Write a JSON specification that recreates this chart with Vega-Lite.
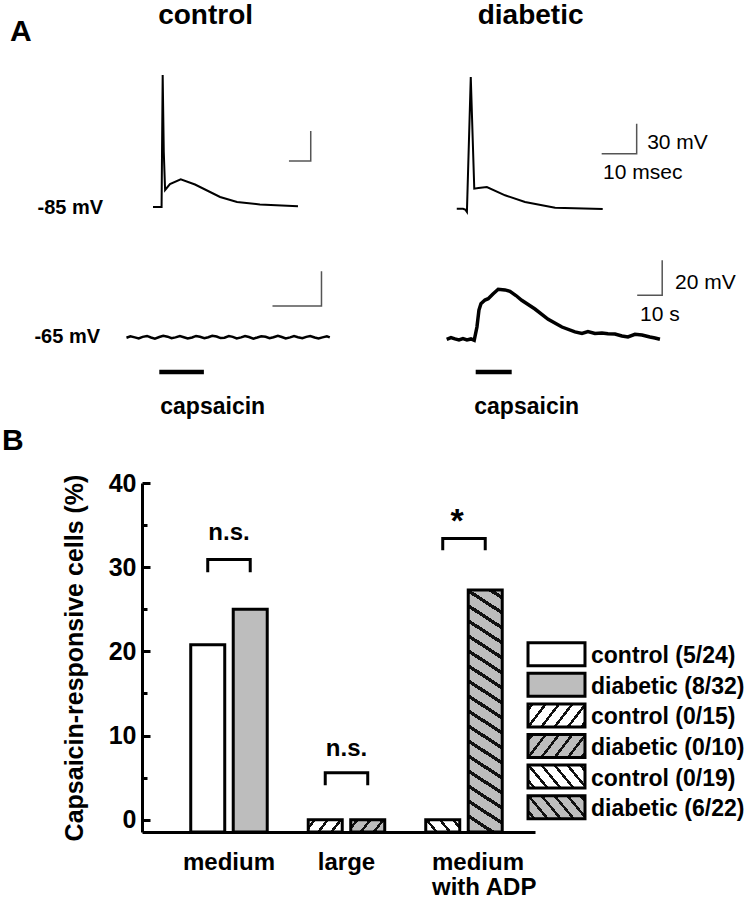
{
"$schema": "https://vega.github.io/schema/vega-lite/v6.json",
"padding": {"left": 2, "top": 1, "right": 0, "bottom": 10},
"config": {"view": {"stroke": null}, "font": "Liberation Sans"},
"bounds": "flush",
"spacing": 0,
"vconcat": [
{
 "width": 538, "height": 160,
 "resolve": {"scale": {"x": "independent"}},
 "layer": [
 {
  "encoding": {
   "x": {"field": "t", "type": "quantitative", "scale": {"domain": [-5, 239.55], "nice": false, "zero": false}, "axis": null},
   "y": {"field": "v", "type": "quantitative", "scale": {"domain": [-100, 60], "nice": false, "zero": false}, "axis": null}
  },
  "layer": [
   {"data": {"values": [{"t":0,"v":-85},{"t":3.9,"v":-85},{"t":4.1,"v":-30},{"t":4.4,"v":47},{"t":4.9,"v":-30},{"t":5.5,"v":-68},{"t":7.7,"v":-62},{"t":12.6,"v":-57.3},{"t":19.1,"v":-62.5},{"t":30.5,"v":-75},{"t":38.2,"v":-80},{"t":48.6,"v":-82.5},{"t":65.9,"v":-84.3}]},
    "mark": {"type": "line", "color": "black", "strokeWidth": 2}},
   {"data": {"values": [{"k":1,"t":61.8,"v":-39},{"k":2,"t":71.7,"v":-39},{"k":3,"t":71.7,"v":-9}]},
    "mark": {"type": "line", "color": "#555555", "strokeWidth": 1.5}, "encoding": {"order": {"field": "k", "type": "quantitative"}}},
   {"data": {"values": [{"t":-22.7,"v":-91.7,"label":"-85 mV"}]},
    "mark": {"type": "text", "align": "right", "baseline": "alphabetic", "fontSize": 20, "fontWeight": "bold", "color": "black"}, "encoding": {"text": {"field": "label"}}},
   {"data": {"values": [{"t":23.9,"v":98.3,"label":"control"}]},
    "mark": {"type": "text", "align": "center", "baseline": "alphabetic", "fontSize": 28, "fontWeight": "bold", "color": "black"}, "encoding": {"text": {"field": "label"}}},
   {"data": {"values": [{"t":-65,"v":80.7,"label":"A"}]},
    "mark": {"type": "text", "align": "left", "baseline": "alphabetic", "fontSize": 30, "fontWeight": "bold", "color": "black"}, "encoding": {"text": {"field": "label"}}}
  ]
 },
 {
  "encoding": {
   "x": {"field": "t", "type": "quantitative", "scale": {"domain": [-89.93, 63.78], "nice": false, "zero": false}, "axis": null},
   "y": {"field": "v", "type": "quantitative", "scale": {"domain": [-100, 60], "nice": false, "zero": false}, "axis": null}
  },
  "layer": [
   {"data": {"values": [{"t":0,"v":-86.7},{"t":1.8,"v":-86.7},{"t":2.4,"v":-87.5},{"t":2.9,"v":-90},{"t":4.0,"v":45},{"t":5.0,"v":-66.7},{"t":6.2,"v":-66},{"t":8.6,"v":-65},{"t":13.8,"v":-73.3},{"t":19.5,"v":-80},{"t":28.1,"v":-85.7},{"t":41.7,"v":-87}]},
    "mark": {"type": "line", "color": "black", "strokeWidth": 2}},
   {"data": {"values": [{"k":1,"t":41.4,"v":-31.7},{"k":2,"t":51.4,"v":-31.7},{"k":3,"t":51.4,"v":-1.7}]},
    "mark": {"type": "line", "color": "#555555", "strokeWidth": 1.5}, "encoding": {"order": {"field": "k", "type": "quantitative"}}},
   {"data": {"values": [{"t":54.4,"v":-26.7,"label":"30 mV"},{"t":41.8,"v":-56.7,"label":"10 msec"}]},
    "mark": {"type": "text", "align": "left", "baseline": "alphabetic", "fontSize": 21, "color": "black"}, "encoding": {"text": {"field": "label"}}},
   {"data": {"values": [{"t":21.1,"v":98.3,"label":"diabetic"}]},
    "mark": {"type": "text", "align": "center", "baseline": "alphabetic", "fontSize": 28, "fontWeight": "bold", "color": "black"}, "encoding": {"text": {"field": "label"}}}
  ]
 }
 ]
},
{
 "width": 538, "height": 261,
 "resolve": {"scale": {"x": "independent"}},
 "layer": [
 {
  "encoding": {
   "x": {"field": "t", "type": "quantitative", "scale": {"domain": [-3.531, 106.27], "nice": false, "zero": false}, "axis": null},
   "y": {"field": "v", "type": "quantitative", "scale": {"domain": [-148.4, 0.7], "nice": false, "zero": false}, "axis": null}
  },
  "layer": [
   {"data": {"values": [{"t":-6.7,"v":-65.4},{"t":-5.9,"v":-64.6},{"t":-5.0,"v":-65.2},{"t":-4.2,"v":-65.8},{"t":-3.4,"v":-64.9},{"t":-2.5,"v":-64.4},{"t":-1.7,"v":-65.3},{"t":-0.9,"v":-65.9},{"t":0.0,"v":-65.0},{"t":0.8,"v":-64.3},{"t":1.7,"v":-64.8},{"t":2.5,"v":-65.7},{"t":3.3,"v":-65.2},{"t":4.2,"v":-64.5},{"t":5.0,"v":-65.1},{"t":5.8,"v":-65.8},{"t":6.7,"v":-65.3},{"t":7.5,"v":-64.4},{"t":8.3,"v":-64.9},{"t":9.2,"v":-65.7},{"t":10.0,"v":-65.1},{"t":10.8,"v":-64.3},{"t":11.7,"v":-64.7},{"t":12.5,"v":-65.6},{"t":13.3,"v":-65.4},{"t":14.2,"v":-64.5},{"t":15.0,"v":-64.9},{"t":15.8,"v":-65.8},{"t":16.7,"v":-65.2},{"t":17.5,"v":-64.4},{"t":18.3,"v":-65.0},{"t":19.2,"v":-65.9},{"t":20.0,"v":-65.3},{"t":20.8,"v":-64.6},{"t":21.7,"v":-64.9},{"t":22.5,"v":-65.7},{"t":23.3,"v":-65.1},{"t":24.2,"v":-64.3},{"t":25.0,"v":-65.0},{"t":25.8,"v":-65.8},{"t":26.7,"v":-65.2},{"t":27.5,"v":-64.5},{"t":28.3,"v":-65.1},{"t":29.2,"v":-65.7},{"t":30.0,"v":-64.9},{"t":30.8,"v":-64.4},{"t":31.7,"v":-65.3},{"t":32.5,"v":-65.8},{"t":33.3,"v":-65.2},{"t":34.2,"v":-64.6},{"t":34.8,"v":-65.2}]},
    "mark": {"type": "line", "color": "black", "strokeWidth": 2.5}},
   {"data": {"values": [{"k":1,"t":23.1,"v":-47.3},{"k":2,"t":33.1,"v":-47.3},{"k":3,"t":33.1,"v":-27.5}]},
    "mark": {"type": "line", "color": "#555555", "strokeWidth": 1.5}, "encoding": {"order": {"field": "k", "type": "quantitative"}}},
   {"data": {"values": [{"t":0,"t2":9.1,"v":-85}]},
    "mark": {"type": "rule", "color": "black", "strokeWidth": 4.5}, "encoding": {"x2": {"field": "t2"}}},
   {"data": {"values": [{"t":-12.1,"v":-68.4,"label":"-65 mV"}]},
    "mark": {"type": "text", "align": "right", "baseline": "alphabetic", "fontSize": 20, "fontWeight": "bold", "color": "black"}, "encoding": {"text": {"field": "label"}}},
   {"data": {"values": [{"t":10.9,"v":-108.8,"label":"capsaicin"}]},
    "mark": {"type": "text", "align": "center", "baseline": "alphabetic", "fontSize": 23, "fontWeight": "bold", "color": "black"}, "encoding": {"text": {"field": "label"}}},
   {"data": {"values": [{"t":-32.1,"v":-129.7,"label":"B"}]},
    "mark": {"type": "text", "align": "left", "baseline": "alphabetic", "fontSize": 30, "fontWeight": "bold", "color": "black"}, "encoding": {"text": {"field": "label"}}}
  ]
 },
 {
  "encoding": {
   "x": {"field": "t", "type": "quantitative", "scale": {"domain": [-133.48, 81.72], "nice": false, "zero": false}, "axis": null},
   "y": {"field": "v", "type": "quantitative", "scale": {"domain": [-148.4, 0.7], "nice": false, "zero": false}, "axis": null}
  },
  "layer": [
   {"data": {"values": [{"t":-11.6,"v":-66.3},{"t":-9.9,"v":-65.3},{"t":-8.3,"v":-66.1},{"t":-6.7,"v":-66.7},{"t":-5.1,"v":-65.9},{"t":-3.5,"v":-66.7},{"t":-1.9,"v":-66.1},{"t":-0.6,"v":-66.9},{"t":0.5,"v":-59.3},{"t":1.3,"v":-49.6},{"t":2.1,"v":-46.0},{"t":3.7,"v":-43.9},{"t":5.0,"v":-43.1},{"t":6.9,"v":-40.4},{"t":9.0,"v":-37.7},{"t":11.7,"v":-38.1},{"t":13.7,"v":-38.9},{"t":16.1,"v":-41.3},{"t":18.4,"v":-44.0},{"t":23.7,"v":-49.0},{"t":29.0,"v":-54.9},{"t":34.5,"v":-59.3},{"t":39.7,"v":-62.1},{"t":42.5,"v":-63.0},{"t":44.9,"v":-61.9},{"t":47.7,"v":-63.0},{"t":50.5,"v":-62.7},{"t":52.9,"v":-63.1},{"t":55.7,"v":-63.3},{"t":58.5,"v":-64.4},{"t":60.9,"v":-65.0},{"t":63.7,"v":-63.5},{"t":66.5,"v":-63.9},{"t":69.7,"v":-65.0},{"t":71.7,"v":-65.6},{"t":73.7,"v":-66.3}]},
    "mark": {"type": "line", "color": "black", "strokeWidth": 3.5}},
   {"data": {"values": [{"k":1,"t":64.6,"v":-41.2},{"k":2,"t":74.6,"v":-41.2},{"k":3,"t":74.6,"v":-21.2}]},
    "mark": {"type": "line", "color": "#555555", "strokeWidth": 1.5}, "encoding": {"order": {"field": "k", "type": "quantitative"}}},
   {"data": {"values": [{"t":0,"t2":14.4,"v":-85}]},
    "mark": {"type": "rule", "color": "black", "strokeWidth": 4.5}, "encoding": {"x2": {"field": "t2"}}},
   {"data": {"values": [{"t":79.7,"v":-37.4,"label":"20 mV"},{"t":65.7,"v":-56,"label":"10 s"}]},
    "mark": {"type": "text", "align": "left", "baseline": "alphabetic", "fontSize": 21, "color": "black"}, "encoding": {"text": {"field": "label"}}},
   {"data": {"values": [{"t":20.4,"v":-108.8,"label":"capsaicin"}]},
    "mark": {"type": "text", "align": "center", "baseline": "alphabetic", "fontSize": 23, "fontWeight": "bold", "color": "black"}, "encoding": {"text": {"field": "label"}}}
  ]
 }
 ]
},
{
 "width": 393, "height": 349,
 "resolve": {"scale": {"x": "independent", "y": "independent"}},
 "layer": [
 {
  "data": {"values": [
   {"group":"medium","cond":"control","pct":20.8},
   {"group":"medium","cond":"diabetic","pct":25.0},
   {"group":"large","cond":"control","pct":0},
   {"group":"large","cond":"diabetic","pct":0},
   {"group":"medium with ADP","cond":"control","pct":0},
   {"group":"medium with ADP","cond":"diabetic","pct":27.3}
  ]},
  "encoding": {
   "x": {"field": "group", "type": "nominal", "title": null,
    "scale": {"type": "band", "domain": ["medium", "large", "medium with ADP"], "paddingInner": 0.349, "paddingOuter": 0.3468, "align": 0.598},
    "axis": {"ticks": false, "tickSize": 0, "domainColor": "black", "domainWidth": 3, "labelFontSize": 24, "labelFontWeight": "bold", "labelColor": "black", "labelPadding": 18, "labelAngle": 0, "labelOverlap": false,
     "labelExpr": "datum.value === 'medium with ADP' ? 'medium' : datum.value",
     "labelAlign": {"condition": {"test": "datum.value === 'medium with ADP'", "value": "left"}, "value": "center"},
     "labelOffset": {"condition": {"test": "datum.value === 'medium with ADP'", "value": -32}, "value": 0}}},
   "y": {"field": "pct", "type": "quantitative",
    "scale": {"domain": [-1.45, 40], "nice": false, "zero": false},
    "axis": {"title": "Capsaicin-responsive cells (%)", "grid": false, "values": [0,5,10,15,20,25,30,35,40],
     "labelExpr": "datum.value % 10 === 0 ? datum.label : ''",
     "tickSize": {"condition": {"test": "datum.value % 10 !== 0", "value": -5}, "value": -8},
     "tickWidth": 3, "tickColor": "black", "domainColor": "black", "domainWidth": 3,
     "labelFontSize": 25, "labelFontWeight": "bold", "labelColor": "black", "labelPadding": 14, "labelFlush": false, "labelOverlap": false,
     "titleFontSize": 25, "titleFontWeight": "bold", "titleColor": "black", "titlePadding": 21}}
  },
  "layer": [
   {"transform": [{"filter": "datum.group === 'medium'"}],
    "mark": {"type": "bar", "stroke": "black", "strokeWidth": 3},
    "encoding": {"xOffset": {"field": "cond", "type": "nominal", "scale": {"domain": ["control", "diabetic"], "paddingInner": 0.2, "paddingOuter": 0}},
     "y2": {"datum": -1.45},
     "fill": {"field": "cond", "type": "nominal", "scale": {"domain": ["control", "diabetic"], "range": ["#ffffff", "#bdbdbd"]}, "legend": null}}},
   {"transform": [{"filter": "datum.group === 'large' && datum.cond === 'control'"}],
    "mark": {"type": "bar", "stroke": "black", "strokeWidth": 3,
     "fill": {"gradient": "linear", "x1": 0, "y1": 0, "x2": 1.1856, "y2": 0.3272, "stops": [
      {"offset":0,"color":"#ffffff"},{"offset":0.1135,"color":"#ffffff"},{"offset":0.1135,"color":"#111111"},{"offset":0.1865,"color":"#111111"},{"offset":0.1865,"color":"#ffffff"},{"offset":0.4135,"color":"#ffffff"},{"offset":0.4135,"color":"#111111"},{"offset":0.4865,"color":"#111111"},{"offset":0.4865,"color":"#ffffff"},{"offset":0.7135,"color":"#ffffff"},{"offset":0.7135,"color":"#111111"},{"offset":0.7865,"color":"#111111"},{"offset":0.7865,"color":"#ffffff"},{"offset":1,"color":"#ffffff"}]}},
    "encoding": {"xOffset": {"field": "cond", "type": "nominal", "scale": {"domain": ["control", "diabetic"], "paddingInner": 0.2, "paddingOuter": 0}}, "y2": {"datum": -1.45}}},
   {"transform": [{"filter": "datum.group === 'large' && datum.cond === 'diabetic'"}],
    "mark": {"type": "bar", "stroke": "black", "strokeWidth": 3,
     "fill": {"gradient": "linear", "x1": 0, "y1": 0, "x2": 1.1856, "y2": 0.3272, "stops": [
      {"offset":0,"color":"#bdbdbd"},{"offset":0.1135,"color":"#bdbdbd"},{"offset":0.1135,"color":"#111111"},{"offset":0.1865,"color":"#111111"},{"offset":0.1865,"color":"#bdbdbd"},{"offset":0.4135,"color":"#bdbdbd"},{"offset":0.4135,"color":"#111111"},{"offset":0.4865,"color":"#111111"},{"offset":0.4865,"color":"#bdbdbd"},{"offset":0.7135,"color":"#bdbdbd"},{"offset":0.7135,"color":"#111111"},{"offset":0.7865,"color":"#111111"},{"offset":0.7865,"color":"#bdbdbd"},{"offset":1,"color":"#bdbdbd"}]}},
    "encoding": {"xOffset": {"field": "cond", "type": "nominal", "scale": {"domain": ["control", "diabetic"], "paddingInner": 0.2, "paddingOuter": 0}}, "y2": {"datum": -1.45}}},
   {"transform": [{"filter": "datum.group === 'medium with ADP' && datum.cond === 'control'"}],
    "mark": {"type": "bar", "stroke": "black", "strokeWidth": 3,
     "fill": {"gradient": "linear", "x1": 1, "y1": 0, "x2": -0.1924, "y2": 0.3566, "stops": [
      {"offset":0,"color":"#ffffff"},{"offset":0.1135,"color":"#ffffff"},{"offset":0.1135,"color":"#111111"},{"offset":0.1865,"color":"#111111"},{"offset":0.1865,"color":"#ffffff"},{"offset":0.4135,"color":"#ffffff"},{"offset":0.4135,"color":"#111111"},{"offset":0.4865,"color":"#111111"},{"offset":0.4865,"color":"#ffffff"},{"offset":0.7135,"color":"#ffffff"},{"offset":0.7135,"color":"#111111"},{"offset":0.7865,"color":"#111111"},{"offset":0.7865,"color":"#ffffff"},{"offset":1,"color":"#ffffff"}]}},
    "encoding": {"xOffset": {"field": "cond", "type": "nominal", "scale": {"domain": ["control", "diabetic"], "paddingInner": 0.2, "paddingOuter": 0}}, "y2": {"datum": -1.45}}},
   {"transform": [{"filter": "datum.group === 'medium with ADP' && datum.cond === 'diabetic'"}],
    "mark": {"type": "bar", "stroke": "black", "strokeWidth": 3,
     "fill": {"gradient": "linear", "x1": 1, "y1": 0, "x2": 0.9011, "y2": 1.0824, "stops": [
      {"offset":0,"color":"#bdbdbd"},
      {"offset":0.0224,"color":"#bdbdbd"},{"offset":0.0224,"color":"#111111"},{"offset":0.0376,"color":"#111111"},{"offset":0.0376,"color":"#bdbdbd"},
      {"offset":0.0792,"color":"#bdbdbd"},{"offset":0.0792,"color":"#111111"},{"offset":0.0944,"color":"#111111"},{"offset":0.0944,"color":"#bdbdbd"},
      {"offset":0.1361,"color":"#bdbdbd"},{"offset":0.1361,"color":"#111111"},{"offset":0.1513,"color":"#111111"},{"offset":0.1513,"color":"#bdbdbd"},
      {"offset":0.1929,"color":"#bdbdbd"},{"offset":0.1929,"color":"#111111"},{"offset":0.2081,"color":"#111111"},{"offset":0.2081,"color":"#bdbdbd"},
      {"offset":0.2498,"color":"#bdbdbd"},{"offset":0.2498,"color":"#111111"},{"offset":0.2650,"color":"#111111"},{"offset":0.2650,"color":"#bdbdbd"},
      {"offset":0.3066,"color":"#bdbdbd"},{"offset":0.3066,"color":"#111111"},{"offset":0.3218,"color":"#111111"},{"offset":0.3218,"color":"#bdbdbd"},
      {"offset":0.3634,"color":"#bdbdbd"},{"offset":0.3634,"color":"#111111"},{"offset":0.3786,"color":"#111111"},{"offset":0.3786,"color":"#bdbdbd"},
      {"offset":0.4203,"color":"#bdbdbd"},{"offset":0.4203,"color":"#111111"},{"offset":0.4355,"color":"#111111"},{"offset":0.4355,"color":"#bdbdbd"},
      {"offset":0.4771,"color":"#bdbdbd"},{"offset":0.4771,"color":"#111111"},{"offset":0.4923,"color":"#111111"},{"offset":0.4923,"color":"#bdbdbd"},
      {"offset":0.5340,"color":"#bdbdbd"},{"offset":0.5340,"color":"#111111"},{"offset":0.5492,"color":"#111111"},{"offset":0.5492,"color":"#bdbdbd"},
      {"offset":0.5908,"color":"#bdbdbd"},{"offset":0.5908,"color":"#111111"},{"offset":0.6060,"color":"#111111"},{"offset":0.6060,"color":"#bdbdbd"},
      {"offset":0.6476,"color":"#bdbdbd"},{"offset":0.6476,"color":"#111111"},{"offset":0.6628,"color":"#111111"},{"offset":0.6628,"color":"#bdbdbd"},
      {"offset":0.7045,"color":"#bdbdbd"},{"offset":0.7045,"color":"#111111"},{"offset":0.7197,"color":"#111111"},{"offset":0.7197,"color":"#bdbdbd"},
      {"offset":0.7613,"color":"#bdbdbd"},{"offset":0.7613,"color":"#111111"},{"offset":0.7765,"color":"#111111"},{"offset":0.7765,"color":"#bdbdbd"},
      {"offset":0.8182,"color":"#bdbdbd"},{"offset":0.8182,"color":"#111111"},{"offset":0.8334,"color":"#111111"},{"offset":0.8334,"color":"#bdbdbd"},
      {"offset":0.8750,"color":"#bdbdbd"},{"offset":0.8750,"color":"#111111"},{"offset":0.8902,"color":"#111111"},{"offset":0.8902,"color":"#bdbdbd"},
      {"offset":0.9318,"color":"#bdbdbd"},{"offset":0.9318,"color":"#111111"},{"offset":0.9470,"color":"#111111"},{"offset":0.9470,"color":"#bdbdbd"},
      {"offset":0.9887,"color":"#bdbdbd"},{"offset":0.9887,"color":"#111111"},{"offset":1,"color":"#111111"}]}},
    "encoding": {"xOffset": {"field": "cond", "type": "nominal", "scale": {"domain": ["control", "diabetic"], "paddingInner": 0.2, "paddingOuter": 0}}, "y2": {"datum": -1.45}}},
   {"data": {"values": [
     {"group":"medium","cond":"control","pct":29.4,"k":1},{"group":"medium","cond":"control","pct":30.9,"k":2},{"group":"medium","cond":"diabetic","pct":30.9,"k":3},{"group":"medium","cond":"diabetic","pct":29.4,"k":4},
     {"group":"large","cond":"control","pct":4.1,"k":1},{"group":"large","cond":"control","pct":5.6,"k":2},{"group":"large","cond":"diabetic","pct":5.6,"k":3},{"group":"large","cond":"diabetic","pct":4.1,"k":4},
     {"group":"medium with ADP","cond":"control","pct":32.0,"k":1},{"group":"medium with ADP","cond":"control","pct":33.4,"k":2},{"group":"medium with ADP","cond":"diabetic","pct":33.4,"k":3},{"group":"medium with ADP","cond":"diabetic","pct":32.0,"k":4}]},
    "mark": {"type": "line", "color": "black", "strokeWidth": 3, "strokeJoin": "miter"},
    "encoding": {"xOffset": {"field": "cond", "type": "nominal", "scale": {"domain": ["control", "diabetic"], "paddingInner": 0.2, "paddingOuter": 0}},
     "detail": {"field": "group"}, "order": {"field": "k", "type": "quantitative"}}},
   {"data": {"values": [{"group":"medium","pct":33.2,"lab":"n.s."},{"group":"large","pct":7.6,"lab":"n.s."}]},
    "mark": {"type": "text", "align": "center", "baseline": "alphabetic", "fontSize": 24, "fontWeight": "bold", "color": "black"},
    "encoding": {"text": {"field": "lab"}}},
   {"data": {"values": [{"group":"medium with ADP","pct":34.2,"lab":"*"}]},
    "mark": {"type": "text", "align": "center", "baseline": "alphabetic", "fontSize": 34, "fontWeight": "bold", "color": "black", "dx": -7},
    "encoding": {"text": {"field": "lab"}}},
   {"data": {"values": [{"group":"medium with ADP","pct":-8.9,"lab":"with ADP"}]},
    "mark": {"type": "text", "align": "left", "baseline": "alphabetic", "fontSize": 24, "fontWeight": "bold", "color": "black", "dx": -32},
    "encoding": {"text": {"field": "lab"}}}
  ]
 },
 {
  "data": {"values": [
   {"key":"r1","label":"control (5/24)"},
   {"key":"r2","label":"diabetic (8/32)"},
   {"key":"r3","label":"control (0/15)"},
   {"key":"r4","label":"diabetic (0/10)"},
   {"key":"r5","label":"control (0/19)"},
   {"key":"r6","label":"diabetic (6/22)"}
  ]},
  "encoding": {
   "y": {"field": "key", "type": "nominal", "scale": {"type": "band", "domain": ["r1","r2","r3","r4","r5","r6"], "range": [159.7, 335.7], "paddingInner": 0.248, "paddingOuter": 0}, "axis": null}
  },
  "layer": [
   {"transform": [{"filter": "datum.key === 'r1'"}],
    "mark": {"type": "bar", "fill": "#ffffff", "stroke": "black", "strokeWidth": 3},
    "encoding": {"x": {"datum": 0.9822, "type": "quantitative", "scale": {"domain": [0, 1], "nice": false, "zero": false}, "axis": null}, "x2": {"datum": 1.1272}}},
   {"transform": [{"filter": "datum.key === 'r2'"}],
    "mark": {"type": "bar", "fill": "#bdbdbd", "stroke": "black", "strokeWidth": 3},
    "encoding": {"x": {"datum": 0.9822, "type": "quantitative", "scale": {"domain": [0, 1], "nice": false, "zero": false}, "axis": null}, "x2": {"datum": 1.1272}}},
   {"transform": [{"filter": "datum.key === 'r3'"}],
    "mark": {"type": "bar", "stroke": "black", "strokeWidth": 3,
     "fill": {"gradient": "linear", "x1": 0, "y1": 0, "x2": 1.1954, "y2": 0.3711, "stops": [
      {"offset":0,"color":"#ffffff"},{"offset":0.039,"color":"#ffffff"},{"offset":0.039,"color":"#111111"},{"offset":0.081,"color":"#111111"},{"offset":0.081,"color":"#ffffff"},
      {"offset":0.217,"color":"#ffffff"},{"offset":0.217,"color":"#111111"},{"offset":0.259,"color":"#111111"},{"offset":0.259,"color":"#ffffff"},
      {"offset":0.395,"color":"#ffffff"},{"offset":0.395,"color":"#111111"},{"offset":0.437,"color":"#111111"},{"offset":0.437,"color":"#ffffff"},
      {"offset":0.573,"color":"#ffffff"},{"offset":0.573,"color":"#111111"},{"offset":0.615,"color":"#111111"},{"offset":0.615,"color":"#ffffff"},
      {"offset":0.751,"color":"#ffffff"},{"offset":0.751,"color":"#111111"},{"offset":0.793,"color":"#111111"},{"offset":0.793,"color":"#ffffff"},
      {"offset":0.929,"color":"#ffffff"},{"offset":0.929,"color":"#111111"},{"offset":0.971,"color":"#111111"},{"offset":0.971,"color":"#ffffff"},{"offset":1,"color":"#ffffff"}]}},
    "encoding": {"x": {"datum": 0.9822, "type": "quantitative", "scale": {"domain": [0, 1], "nice": false, "zero": false}, "axis": null}, "x2": {"datum": 1.1272}}},
   {"transform": [{"filter": "datum.key === 'r4'"}],
    "mark": {"type": "bar", "stroke": "black", "strokeWidth": 3,
     "fill": {"gradient": "linear", "x1": 0, "y1": 0, "x2": 1.1954, "y2": 0.3711, "stops": [
      {"offset":0,"color":"#bdbdbd"},{"offset":0.039,"color":"#bdbdbd"},{"offset":0.039,"color":"#111111"},{"offset":0.081,"color":"#111111"},{"offset":0.081,"color":"#bdbdbd"},
      {"offset":0.217,"color":"#bdbdbd"},{"offset":0.217,"color":"#111111"},{"offset":0.259,"color":"#111111"},{"offset":0.259,"color":"#bdbdbd"},
      {"offset":0.395,"color":"#bdbdbd"},{"offset":0.395,"color":"#111111"},{"offset":0.437,"color":"#111111"},{"offset":0.437,"color":"#bdbdbd"},
      {"offset":0.573,"color":"#bdbdbd"},{"offset":0.573,"color":"#111111"},{"offset":0.615,"color":"#111111"},{"offset":0.615,"color":"#bdbdbd"},
      {"offset":0.751,"color":"#bdbdbd"},{"offset":0.751,"color":"#111111"},{"offset":0.793,"color":"#111111"},{"offset":0.793,"color":"#bdbdbd"},
      {"offset":0.929,"color":"#bdbdbd"},{"offset":0.929,"color":"#111111"},{"offset":0.971,"color":"#111111"},{"offset":0.971,"color":"#bdbdbd"},{"offset":1,"color":"#bdbdbd"}]}},
    "encoding": {"x": {"datum": 0.9822, "type": "quantitative", "scale": {"domain": [0, 1], "nice": false, "zero": false}, "axis": null}, "x2": {"datum": 1.1272}}},
   {"transform": [{"filter": "datum.key === 'r5'"}],
    "mark": {"type": "bar", "stroke": "black", "strokeWidth": 3,
     "fill": {"gradient": "linear", "x1": 1, "y1": 0, "x2": -0.2005, "y2": 0.4036, "stops": [
      {"offset":0,"color":"#ffffff"},{"offset":0.039,"color":"#ffffff"},{"offset":0.039,"color":"#111111"},{"offset":0.081,"color":"#111111"},{"offset":0.081,"color":"#ffffff"},
      {"offset":0.210,"color":"#ffffff"},{"offset":0.210,"color":"#111111"},{"offset":0.252,"color":"#111111"},{"offset":0.252,"color":"#ffffff"},
      {"offset":0.380,"color":"#ffffff"},{"offset":0.380,"color":"#111111"},{"offset":0.422,"color":"#111111"},{"offset":0.422,"color":"#ffffff"},
      {"offset":0.551,"color":"#ffffff"},{"offset":0.551,"color":"#111111"},{"offset":0.593,"color":"#111111"},{"offset":0.593,"color":"#ffffff"},
      {"offset":0.722,"color":"#ffffff"},{"offset":0.722,"color":"#111111"},{"offset":0.764,"color":"#111111"},{"offset":0.764,"color":"#ffffff"},
      {"offset":0.893,"color":"#ffffff"},{"offset":0.893,"color":"#111111"},{"offset":0.935,"color":"#111111"},{"offset":0.935,"color":"#ffffff"},{"offset":1,"color":"#ffffff"}]}},
    "encoding": {"x": {"datum": 0.9822, "type": "quantitative", "scale": {"domain": [0, 1], "nice": false, "zero": false}, "axis": null}, "x2": {"datum": 1.1272}}},
   {"transform": [{"filter": "datum.key === 'r6'"}],
    "mark": {"type": "bar", "stroke": "black", "strokeWidth": 3,
     "fill": {"gradient": "linear", "x1": 1, "y1": 0, "x2": -0.2005, "y2": 0.4036, "stops": [
      {"offset":0,"color":"#bdbdbd"},{"offset":0.039,"color":"#bdbdbd"},{"offset":0.039,"color":"#111111"},{"offset":0.081,"color":"#111111"},{"offset":0.081,"color":"#bdbdbd"},
      {"offset":0.210,"color":"#bdbdbd"},{"offset":0.210,"color":"#111111"},{"offset":0.252,"color":"#111111"},{"offset":0.252,"color":"#bdbdbd"},
      {"offset":0.380,"color":"#bdbdbd"},{"offset":0.380,"color":"#111111"},{"offset":0.422,"color":"#111111"},{"offset":0.422,"color":"#bdbdbd"},
      {"offset":0.551,"color":"#bdbdbd"},{"offset":0.551,"color":"#111111"},{"offset":0.593,"color":"#111111"},{"offset":0.593,"color":"#bdbdbd"},
      {"offset":0.722,"color":"#bdbdbd"},{"offset":0.722,"color":"#111111"},{"offset":0.764,"color":"#111111"},{"offset":0.764,"color":"#bdbdbd"},
      {"offset":0.893,"color":"#bdbdbd"},{"offset":0.893,"color":"#111111"},{"offset":0.935,"color":"#111111"},{"offset":0.935,"color":"#bdbdbd"},{"offset":1,"color":"#bdbdbd"}]}},
    "encoding": {"x": {"datum": 0.9822, "type": "quantitative", "scale": {"domain": [0, 1], "nice": false, "zero": false}, "axis": null}, "x2": {"datum": 1.1272}}},
   {"mark": {"type": "text", "align": "left", "baseline": "middle", "fontSize": 23, "fontWeight": "bold", "color": "black", "dy": 2},
    "encoding": {"x": {"datum": 1.1425, "type": "quantitative", "scale": {"domain": [0, 1], "nice": false, "zero": false}, "axis": null}, "text": {"field": "label"}}}
  ]
 }
 ]
}
]
}
